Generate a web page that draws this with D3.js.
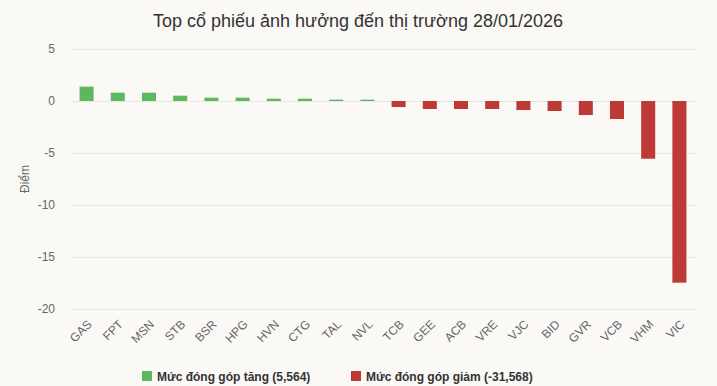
<!DOCTYPE html>
<html>
<head>
<meta charset="utf-8">
<script src="https://cdn.jsdelivr.net/npm/d3@7"></script>
<style>
  body { margin: 0; background: #faf9f6; }
  svg { display: block; font-family: "Liberation Sans", Arial, sans-serif; }
  .grid line { stroke: #e6e6e6; }
  .tick text { fill: #666; }
</style>
</head>
<body>
<svg></svg>
<script>
var width = 717, height = 386;
var padding = { top: 49, right: 22, bottom: 77, left: 71 };

var stocks = ["GAS", "FPT", "MSN", "STB", "BSR", "HPG", "HVN", "CTG", "TAL", "NVL",
  "TCB", "GEE", "ACB", "VRE", "VJC", "BID", "GVR", "VCB", "VHM", "VIC"];
var points = [1.38, 0.80, 0.80, 0.51, 0.32, 0.32, 0.22, 0.22, 0.13, 0.13,
  -0.58, -0.77, -0.77, -0.77, -0.87, -0.96, -1.35, -1.73, -5.55, -17.47];
var yTicks = [5, 0, -5, -10, -15, -20];
var legendLabels = ["Mức đóng góp tăng (5,564)", "Mức đóng góp giảm (-31,568)"];
var colors = ["#5cb85c", "#bd3a36"];

var svg = d3.select("svg")
  .attr("width", width)
  .attr("height", height);

var xScale = d3.scaleBand()
  .domain(stocks)
  .range([padding.left, width - padding.right])
  .paddingInner(0.55)
  .paddingOuter(0.275);

var yScale = d3.scaleLinear()
  .domain([-20, 5])
  .range([height - padding.bottom, padding.top]);

// title
svg.append("text")
  .attr("x", 358)
  .attr("y", 27)
  .attr("text-anchor", "middle")
  .style("font-size", "18px")
  .style("fill", "#333")
  .text("Top cổ phiếu ảnh hưởng đến thị trường 28/01/2026");

// gridlines + y labels
var yAxis = svg.append("g")
  .classed("grid", true)
  .attr("transform", "translate(" + padding.left + ", 0)")
  .call(d3.axisLeft(yScale)
    .tickValues(yTicks)
    .tickFormat(d => String(d))
    .tickSize(-(width - padding.left - padding.right))
    .tickPadding(16));
yAxis.select(".domain").remove();
yAxis.selectAll(".tick line")
  .attr("stroke", d => d === -20 ? "#ccd6eb" : "#e6e6e6");
yAxis.selectAll(".tick text")
  .style("font-size", "12px");

svg.append("text")
  .attr("transform", "rotate(-90)")
  .attr("x", -(yScale(-7.5)))
  .attr("y", 29)
  .attr("text-anchor", "middle")
  .style("font-size", "12px")
  .style("fill", "#666")
  .text("Điểm");

// x labels
var xAxis = svg.append("g")
  .attr("transform", "translate(0, " + (height - padding.bottom) + ")")
  .call(d3.axisBottom(xScale).tickSize(0).tickPadding(0));
xAxis.select(".domain").remove();
xAxis.selectAll(".tick text")
  .attr("text-anchor", "end")
  .attr("y", 0)
  .attr("dy", 0)
  .attr("transform", "translate(6, 16) rotate(-45)")
  .style("font-size", "12px");

// bars
svg.selectAll("rect.bar")
  .data(points)
  .enter()
  .append("rect")
    .classed("bar", true)
    .attr("x", (d, i) => xScale(stocks[i]))
    .attr("width", xScale.bandwidth())
    .attr("y", d => yScale(Math.max(0, d)))
    .attr("height", d => Math.abs(yScale(d) - yScale(0)))
    .attr("fill", d => d >= 0 ? colors[0] : colors[1]);

// legend
var legend = svg.selectAll("g.legend")
  .data(legendLabels)
  .enter()
  .append("g")
    .classed("legend", true)
    .attr("transform", (d, i) => "translate(" + (i === 0 ? 142 : 351) + ", 371)");
legend.append("rect")
  .attr("width", 10)
  .attr("height", 10)
  .attr("fill", (d, i) => colors[i]);
legend.append("text")
  .attr("x", 15)
  .attr("y", 9.5)
  .style("font-size", "12px")
  .style("font-weight", "bold")
  .style("fill", "#333")
  .text(d => d);
</script>
</body>
</html>
